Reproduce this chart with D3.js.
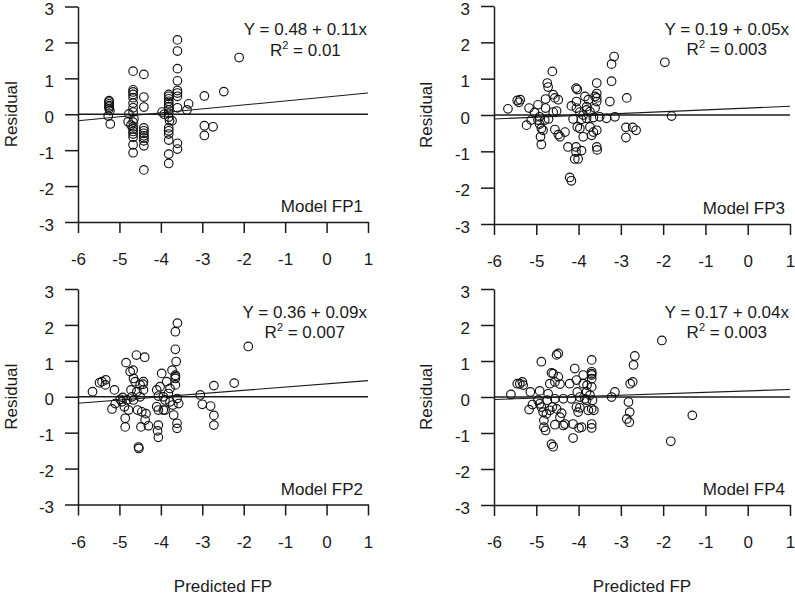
<!DOCTYPE html>
<html>
<head>
<meta charset="utf-8">
<script src="https://cdn.jsdelivr.net/npm/d3@7"></script>
<style>
  body { margin: 0; background: #fff; }
  svg { font-family: "Liberation Sans", Arial, sans-serif; }
  .axis text { font-size: 17px; fill: #1a1a1a; }
  .axis path, .axis line { stroke: #1a1a1a; stroke-width: 1.5; }
</style>
</head>
<body>
<svg width="795" height="598"></svg>
<script>
// residuals vs predicted FP
const fp1 = [
  [-5.25,0.38],[-5.25,0.34],[-5.25,0.29],[-5.25,0.24],[-5.25,0.20],[-5.25,0.15],[-5.23,0.10],[-5.27,-0.05],[-5.22,-0.27],
  [-4.79,-0.21],[-4.77,0.01],[-4.72,-0.30],
  [-4.67,1.20],[-4.67,0.68],[-4.67,0.62],[-4.67,0.55],[-4.67,0.46],[-4.67,0.31],[-4.67,0.18],[-4.67,0.06],[-4.65,-0.13],
  [-4.67,-0.22],[-4.67,-0.35],[-4.67,-0.41],[-4.67,-0.48],[-4.67,-0.55],[-4.67,-0.64],[-4.67,-0.85],[-4.67,-1.07],
  [-4.41,1.11],[-4.41,0.48],[-4.41,0.20],[-4.41,-0.38],[-4.41,-0.46],[-4.41,-0.53],[-4.41,-0.60],[-4.41,-0.66],
  [-4.41,-0.74],[-4.41,-0.88],[-4.41,-1.55],
  [-3.97,0.06],[-3.92,0.0],
  [-3.81,0.55],[-3.81,0.50],[-3.81,0.43],[-3.81,0.36],[-3.81,0.29],[-3.81,0.21],[-3.81,0.12],[-3.81,0.03],[-3.81,-0.08],
  [-3.79,-0.18],[-3.81,-0.38],[-3.81,-0.46],[-3.81,-0.55],[-3.81,-0.72],[-3.81,-1.11],[-3.81,-1.37],[-3.73,-0.18],
  [-3.60,2.07],[-3.60,1.76],[-3.60,1.27],[-3.60,0.93],[-3.60,0.66],[-3.60,0.59],[-3.60,0.50],[-3.60,0.18],[-3.60,-0.81],[-3.60,-0.97],
  [-3.33,0.29],[-3.37,0.12],
  [-2.95,0.51],[-2.95,-0.32],[-2.95,-0.59],[-2.74,-0.35],[-2.48,0.63],[-2.11,1.58]
]

const fp3 = [
  [-5.67,0.17],[-5.45,0.40],[-5.38,0.42],[-5.41,0.35],[-5.17,0.19],[-5.23,-0.28],[-5.12,-0.14],[-5.04,0.07],[-4.96,0.28],
  [-4.92,-0.05],[-4.96,-0.14],[-4.92,-0.25],[-4.88,-0.37],[-4.90,-0.60],[-4.88,-0.81],[-4.84,-0.42],[-4.78,0.19],
  [-4.74,0.88],[-4.72,0.77],[-4.78,0.44],[-4.80,-0.14],[-4.71,-0.11],[-4.62,1.20],[-4.60,0.56],[-4.56,0.47],[-4.48,0.42],
  [-4.52,0.11],[-4.60,0.08],[-4.56,-0.40],[-4.48,-0.54],[-4.44,-0.60],[-4.32,-0.47],[-4.25,-0.88],[-4.21,-1.72],[-4.17,-1.81],
  [-4.17,0.25],[-4.13,-0.11],[-4.06,0.74],[-4.03,0.70],[-4.05,0.37],[-4.05,0.19],[-4.03,-0.33],[-3.97,-0.37],
  [-4.06,-0.88],[-4.06,-1.02],[-4.09,-1.21],[-4.01,-1.21],[-3.93,-0.98],[-3.89,-0.60],[-3.85,0.51],[-3.81,0.14],
  [-3.77,0.42],[-3.81,-0.09],[-3.73,-0.33],[-3.69,-0.56],[-3.65,-0.47],[-3.89,0.0],[-3.97,0.08],[-3.81,0.23],[-3.73,0.09],[-3.93,-0.12],
  [-3.61,0.51],[-3.57,0.59],[-3.57,0.47],[-3.57,0.37],[-3.57,0.88],[-3.61,0.19],[-3.65,-0.07],[-3.57,-0.88],[-3.56,-0.96],
  [-3.57,-0.42],[-3.50,-0.05],[-3.34,-0.09],[-3.26,0.37],[-3.22,0.93],[-3.22,1.40],[-3.16,1.61],[-3.14,-0.05],
  [-2.86,0.47],[-2.88,-0.34],[-2.88,-0.62],[-2.72,-0.34],[-2.64,-0.42],[-1.96,1.45],[-1.80,-0.03]
]

const fp2 = [
  [-5.65,0.14],[-5.48,0.39],[-5.42,0.42],[-5.33,0.47],[-5.34,0.33],[-5.12,0.19],[-5.18,-0.34],[-5.10,-0.19],[-4.98,-0.07],
  [-4.94,-0.14],[-4.88,-0.28],[-4.86,-0.60],[-4.86,-0.84],[-4.84,0.95],[-4.82,-0.09],[-4.78,-0.37],[-4.74,0.70],[-4.72,0.19],
  [-4.70,0.0],[-4.67,0.74],[-4.66,0.51],[-4.62,0.42],[-4.59,1.16],[-4.58,0.14],[-4.56,-0.37],[-4.54,-1.40],[-4.53,-1.44],
  [-4.50,0.0],[-4.48,-0.84],[-4.46,-0.42],[-4.43,0.35],[-4.42,0.42],[-4.39,1.10],[-4.38,-0.65],[-4.30,-0.81],[-4.42,0.19],
  [-4.50,0.33],[-4.36,-0.47],[-4.66,-0.09],[-4.92,-0.02],
  [-4.10,0.19],[-4.06,0.02],[-4.10,-0.28],[-4.06,-0.37],[-4.06,-0.79],[-4.08,-0.95],[-4.06,-1.13],[-3.98,0.65],[-4.02,0.28],
  [-3.94,0.0],[-3.90,-0.37],[-3.90,-0.09],[-3.86,0.42],[-3.82,0.09],[-3.78,0.23],[-3.73,0.74],[-3.69,-0.51],
  [-3.65,1.32],[-3.63,0.98],[-3.65,0.51],[-3.65,0.60],[-3.65,0.56],[-3.65,0.33],[-3.65,1.81],[-3.60,2.05],[-3.61,-0.05],
  [-3.61,-0.74],[-3.61,-0.88],[-3.71,-0.23],[-3.57,-0.19],[-3.94,-0.37],[-3.78,-0.14],
  [-3.05,0.05],[-3.00,-0.21],[-2.80,-0.26],[-2.72,0.31],[-2.72,-0.52],[-2.72,-0.79],[-2.23,0.38],[-1.89,1.40]
]

const fp4 = [
  [-5.60,0.07],[-5.45,0.37],[-5.39,0.37],[-5.33,0.42],[-5.31,0.33],[-5.14,0.14],[-5.17,-0.35],[-5.09,-0.21],[-4.92,0.17],
  [-4.88,0.98],[-4.96,-0.09],[-4.92,-0.19],[-4.88,-0.28],[-4.84,-0.42],[-4.82,-0.65],[-4.82,-0.84],[-4.78,-0.93],
  [-4.74,-0.09],[-4.72,0.09],[-4.68,0.37],[-4.64,0.67],[-4.60,0.65],[-4.56,0.42],[-4.56,-0.05],[-4.62,-0.28],[-4.68,-0.37],
  [-4.76,-0.47],[-4.52,1.17],[-4.48,1.21],[-4.64,-1.31],[-4.60,-1.38],[-4.52,-0.33],[-4.48,0.56],[-4.44,0.36],[-4.56,-0.77],
  [-4.44,-0.56],[-4.40,-0.45],[-4.36,-0.79],[-4.32,-0.75],[-4.36,-0.05],
  [-4.21,0.37],[-4.17,-0.05],[-4.13,-0.75],[-4.13,-1.14],[-4.09,0.79],[-4.05,0.47],[-4.03,0.14],[-4.05,-0.28],[-4.01,-0.42],
  [-3.97,-0.30],[-3.99,-0.86],[-3.93,-0.84],[-3.89,0.61],[-3.89,0.37],[-3.85,-0.05],[-3.81,0.14],[-3.80,0.33],[-3.77,-0.37],
  [-3.73,0.05],[-3.69,1.03],[-3.69,0.70],[-3.69,0.65],[-3.69,0.61],[-3.69,0.51],[-3.69,0.28],[-3.67,-0.09],[-3.69,-0.33],
  [-3.69,-0.75],[-3.69,-0.86],[-3.64,-0.37],[-3.81,-0.09],[-3.97,0.0],
  [-3.22,0.0],[-3.14,0.14],[-2.82,-0.14],[-2.79,-0.42],[-2.86,-0.61],[-2.80,-0.70],[-2.78,0.37],[-2.72,0.42],[-2.70,0.89],
  [-2.67,1.14],[-2.03,1.57],[-1.82,-1.23],[-1.31,-0.51]
]

const models = ['Model FP1', 'Model FP3', 'Model FP2', 'Model FP4']
const series = [fp1, fp3, fp2, fp4]
const intercepts = [0.48, 0.19, 0.36, 0.17]
const slopes = [0.11, 0.05, 0.09, 0.04]
const rsq = ['0.01', '0.003', '0.007', '0.003']
const xTicks = [-6, -5, -4, -3, -2, -1, 0, 1]
const yTicks = [-3, -2, -1, 0, 1, 2, 3]

// where each panel sits on the page
const layout = [
  { x0: 78, x1: 368, y0: 6.5, y1: 222, labX: 11, xTitle: false },
  { x0: 494, x1: 790, y0: 6, y1: 224, labX: 426, xTitle: false },
  { x0: 78, x1: 368, y0: 289, y1: 504.5, labX: 11, xTitle: true },
  { x0: 494, x1: 790, y0: 289, y1: 505, labX: 426, xTitle: true }
]

const svg = d3.select('svg')
const ink = '#1a1a1a'
const fs = '17px'

layout.forEach(function (L, i) {
  const g = svg.append('g')
  const x = d3.scaleLinear().domain([-6, 1]).range([L.x0, L.x1])
  const y = d3.scaleLinear().domain([-3, 3]).range([L.y1, L.y0])

  // plain hyphen minus like the original
  const plain = d => String(d)

  const ya = g.append('g')
    .attr('class', 'axis')
    .attr('transform', `translate(${L.x0},0)`)
    .call(d3.axisLeft(y).tickValues(yTicks).tickSize(13).tickSizeOuter(0).tickPadding(11).tickFormat(plain))
  ya.selectAll('text').attr('dy', '0.48em')

  g.append('g')
    .attr('class', 'axis')
    .attr('transform', `translate(0,${L.y1})`)
    .call(d3.axisBottom(x).tickValues(xTicks).tickSize(11).tickSizeOuter(0).tickPadding(20).tickFormat(plain))

  // zero reference and fitted line
  g.append('line')
    .attr('x1', x(-6)).attr('x2', x(1))
    .attr('y1', y(0)).attr('y2', y(0))
    .style('stroke', ink).style('stroke-width', 1.3)
  g.append('line')
    .attr('x1', x(-6)).attr('x2', x(1))
    .attr('y1', y(intercepts[i] + slopes[i] * -6))
    .attr('y2', y(intercepts[i] + slopes[i] * 1))
    .style('stroke', ink).style('stroke-width', 1.1)

  g.selectAll('circle')
    .data(series[i])
    .enter()
    .append('circle')
    .attr('cx', d => x(d[0]))
    .attr('cy', d => y(d[1]))
    .attr('r', 4.3)
    .style('fill', 'none')
    .style('stroke', '#111')
    .style('stroke-width', 1.15)

  const eq = g.append('text')
    .attr('x', L.x1 - 1)
    .attr('y', y(3) + 28.5)
    .attr('text-anchor', 'end')
    .style('font-size', fs).style('fill', ink)
    .text(`Y = ${intercepts[i]} + ${slopes[i]}x`)
  const w = eq.node().getComputedTextLength()

  const r2 = g.append('text')
    .attr('x', L.x1 - 1 - w / 2)
    .attr('y', y(3) + 49)
    .attr('text-anchor', 'middle')
    .style('font-size', fs).style('fill', ink)
  r2.append('tspan').text('R')
  r2.append('tspan').attr('dy', -7).style('font-size', '11px').text('2')
  r2.append('tspan').attr('dy', 7).text(' = ' + rsq[i])

  g.append('text')
    .attr('x', L.x1 - 5)
    .attr('y', y(-3) - 10)
    .attr('text-anchor', 'end')
    .style('font-size', fs).style('fill', ink)
    .text(models[i])

  g.append('text')
    .attr('transform', `translate(${L.labX + 6},${(L.y0 + L.y1) / 2}) rotate(-90)`)
    .attr('text-anchor', 'middle')
    .style('font-size', fs).style('fill', ink)
    .text('Residual')

  if (L.xTitle) {
    g.append('text')
      .attr('x', (L.x0 + L.x1) / 2)
      .attr('y', 592)
      .attr('text-anchor', 'middle')
      .style('font-size', fs).style('fill', ink)
      .text('Predicted FP')
  }
})
</script>
</body>
</html>
